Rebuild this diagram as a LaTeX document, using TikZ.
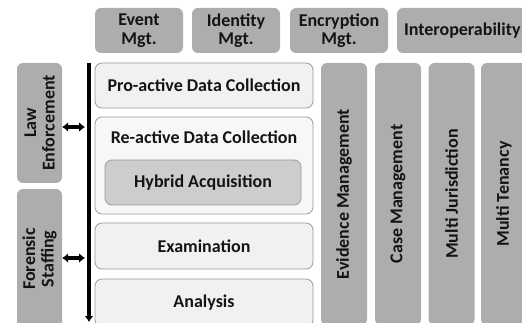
\documentclass[tikz,border=0pt]{standalone}
\usepackage{fontspec}
\setmainfont{Carlito}
\usetikzlibrary{arrows.meta}

\definecolor{boxgray}{HTML}{ADADAD}
\definecolor{boxlight}{HTML}{F1F1F1}
\definecolor{edgelight}{HTML}{9A9A9A}
\definecolor{hybridgray}{HTML}{CDCDCD}
\definecolor{txt}{HTML}{141414}

\begin{document}
\begin{tikzpicture}[x=1pt,y=-1pt,
  graybox/.style={fill=boxgray, rounded corners=6pt, text=txt, align=center,
    font=\fontsize{18}{18.5}\selectfont\bfseries, inner sep=0pt},
  lightbox/.style={fill=boxlight, draw=edgelight, line width=0.8pt, rounded corners=7pt,
    text=txt, font=\fontsize{18}{18.5}\selectfont\bfseries, inner sep=0pt},
  vertbox/.style={graybox, minimum width=262pt, minimum height=46pt},
  linkarrow/.style={{Latex[length=6pt,width=10pt]}-{Latex[length=6pt,width=10pt]}, line width=3.4pt}
]
\useasboundingbox (0,0) rectangle (522,323);
\clip (0,0) rectangle (522,323);

% Top row
\node[graybox, minimum width=88pt, minimum height=45pt] (event) at (139,30.5) {Event\\Mgt.};
\node[graybox, minimum width=88pt, minimum height=45pt] (identity) at (236,30.5) {Identity\\Mgt.};
\node[graybox, minimum width=98pt, minimum height=45pt] (encrypt) at (339,30.5) {Encryption\\Mgt.};
\node[graybox, minimum width=134pt, minimum height=45pt, text width=134pt, align=left] (interop) at (464,30.5) {\hspace*{7pt}Interoperability};

% Left side
\node[graybox, minimum width=120pt, minimum height=45pt, rotate=90] (law) at (39.5,123) {Law\\Enforcement};
\node[graybox, minimum width=140pt, minimum height=45pt, rotate=90] (forensic) at (39.5,259) {Forensic\\Staffing};

% Process column
\node[lightbox, minimum width=218pt, minimum height=45pt] (proactive) at (204,85.5) {Pro-active Data Collection};
\node[lightbox, fill=boxlight!60!white, minimum width=218pt, minimum height=97pt] (reactive) at (204,165.5) {};
\node[txt, font=\fontsize{18}{18.5}\selectfont\bfseries] (reactlabel) at (204,137) {Re-active Data Collection};
\node[lightbox, fill=hybridgray, minimum width=196pt, minimum height=45pt] (hybrid) at (203,182.5) {Hybrid Acquisition};
\node[lightbox, minimum width=218pt, minimum height=46pt] (exam) at (204,246) {Examination};
\node[lightbox, minimum width=218pt, minimum height=48pt] (analysis) at (204,303) {Analysis};

% Right columns
\node[vertbox, rotate=90] (evidence) at (344,194) {Evidence Management};
\node[vertbox, rotate=90] (casemgt) at (398,194) {Case Management};
\node[vertbox, rotate=90] (jurisdiction) at (451.5,194) {Multi Jurisdiction};
\node[vertbox, rotate=90] (tenancy) at (504,194) {Multi Tenancy};

% Flow line
\coordinate (flowtop) at (89,63);
\coordinate (flowbot) at (89,322);
\draw[-{Latex[length=6pt,width=9pt]}, line width=3.4pt] (flowtop) -- (flowbot);

% Links
\coordinate (lawend) at (85,127);
\coordinate (forend) at (85,258);
\draw[linkarrow] (law.south |- lawend) -- (lawend);
\draw[linkarrow] (forensic.south |- forend) -- (forend);
\end{tikzpicture}
\end{document}
